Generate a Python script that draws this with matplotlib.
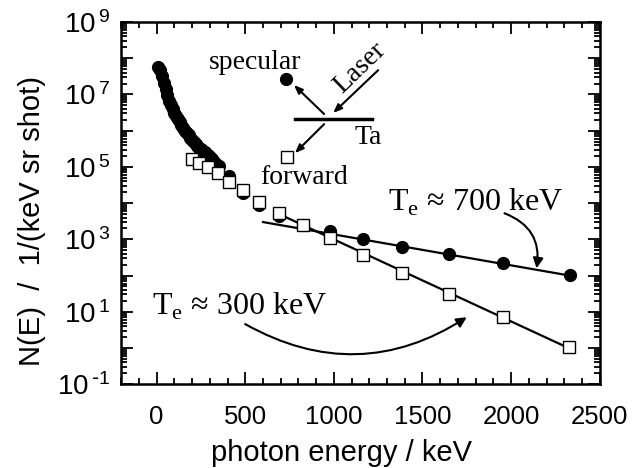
import numpy as np
import matplotlib
matplotlib.use('Agg')
from matplotlib import pyplot as plt
from matplotlib import ticker
from matplotlib.patches import FancyArrowPatch

# specular spectrum (filled circles)
spec_x = [10, 20, 30, 40, 50, 60, 70, 80, 90, 100, 110, 120, 130, 140, 150,
          160, 170, 180, 190, 200, 210, 220, 230, 240, 250, 260, 270, 280,
          290, 300, 310, 320, 330, 340, 350,
          409, 489, 580, 693, 824, 977, 1165, 1386, 1648, 1955, 2330]
spec_y = [5.8e7, 4.8e7, 3.3e7, 2.1e7, 1.4e7, 9.5e6, 6.6e6, 5.0e6, 3.9e6, 3.1e6,
          2.6e6, 2.1e6, 1.75e6, 1.4e6, 1.2e6, 1.0e6, 8.6e5, 7.4e5, 6.3e5, 5.5e5,
          4.9e5, 4.3e5, 3.8e5, 3.4e5, 3.1e5, 2.8e5, 2.5e5, 2.3e5, 2.1e5, 1.9e5,
          1.7e5, 1.5e5, 1.3e5, 1.15e5, 1.05e5,
          5.6e4, 1.9e4, 8.7e3, 4.4e3, 2.5e3, 1.7e3, 1.0e3, 6.0e2, 3.9e2, 2.2e2, 1.02e2]

# forward spectrum (open squares)
fwd_x = [199, 239, 290, 347, 409, 489, 580, 693, 824, 977, 1165, 1386, 1648, 1955, 2324]
fwd_y = [1.7e5, 1.27e5, 9.8e4, 6.8e4, 3.8e4, 2.3e4, 1.07e4, 5.3e3, 2.5e3, 1.08e3,
         3.6e2, 1.17e2, 31, 7.1, 1.05]

# exponential fits
fit_hot_x = [600, 2330]
fit_hot_y = [3.0e3, 1.0e2]
fit_cold_x = [690, 2324]
fit_cold_y = [5.0e3, 1.0]

serif = 'Liberation Serif'
sans = 'Liberation Sans'
plt.rcParams['font.family'] = sans

fig = plt.figure(figsize=(6.38, 4.68), dpi=100)
ax = fig.add_axes([0.190, 0.179, 0.750, 0.774])

ax.plot(fit_hot_x, fit_hot_y, '-', color='black', lw=1.6, zorder=2)
ax.plot(fit_cold_x, fit_cold_y, '-', color='black', lw=1.6, zorder=2)
ax.plot(spec_x, spec_y, 'o', color='black', ms=8.5, zorder=3)
ax.plot(fwd_x, fwd_y, 's', mfc='white', mec='black', mew=1.0, ms=8.5, zorder=4)

ax.set_yscale('log')
ax.set_xlim(-200, 2500)
ax.set_ylim(1e-1, 1e9)

ax.xaxis.set_major_locator(ticker.MultipleLocator(500))
ax.xaxis.set_minor_locator(ticker.MultipleLocator(100))
ax.yaxis.set_major_locator(ticker.LogLocator(base=10, numticks=20))
ax.yaxis.set_minor_locator(ticker.LogLocator(base=10, subs=np.arange(2, 10), numticks=20))


def ylab(v, pos):
    e = int(round(np.log10(v)))
    if e % 2 == 0:
        return ''
    s = str(e).replace('-', r'\text{-}')
    return r'$\mathregular{10^{\,%s}}$' % s


ax.yaxis.set_major_formatter(ticker.FuncFormatter(ylab))
ax.yaxis.set_minor_formatter(ticker.NullFormatter())

ax.tick_params(which='both', direction='in', top=True, right=True, width=1.3)
ax.tick_params(which='major', length=8.5)
ax.tick_params(which='minor', length=4.5)
ax.tick_params(axis='x', which='major', labelsize=18.5, pad=15)
ax.tick_params(axis='y', which='major', labelsize=20, pad=8)
for s in ax.spines.values():
    s.set_linewidth(1.8)

ax.set_xlabel('photon energy / keV', fontsize=21)
ax.xaxis.label.set_verticalalignment('baseline')
ax.xaxis.set_label_coords(0.461, -0.213)
ax.set_ylabel('N(E)  /  1/(keV sr shot)', fontsize=21)
ax.yaxis.label.set_verticalalignment('center')
ax.yaxis.set_label_coords(-0.186, 0.450)

# inset sketch
tr = ax.transAxes
ax.plot([0.344], [0.843], 'o', color='black', ms=8.5, transform=tr, clip_on=False)
ax.plot([0.347], [0.627], 's', mfc='white', mec='black', mew=1.0, ms=8.5,
        transform=tr, clip_on=False)
ax.plot([0.363, 0.524], [0.732, 0.732], '-', color='black', lw=2.5, transform=tr)
ax.text(0.280, 0.887, 'specular', transform=tr, fontsize=20, family=serif,
        ha='center', va='center')
ax.text(0.382, 0.572, 'forward', transform=tr, fontsize=20, family=serif,
        ha='center', va='center')
ax.text(0.516, 0.682, 'Ta', transform=tr, fontsize=20, family=serif,
        ha='center', va='center')
ax.text(0.499, 0.873, 'Laser', transform=tr, fontsize=20, family=serif,
        ha='center', va='center', rotation=44)

for (x0, y0), (x1, y1) in [((0.537, 0.867), (0.443, 0.749)),
                           ((0.424, 0.746), (0.361, 0.826)),
                           ((0.424, 0.718), (0.363, 0.638))]:
    ax.annotate('', xy=(x1, y1), xytext=(x0, y0), xycoords=tr, textcoords=tr,
                arrowprops=dict(arrowstyle='-|>,head_length=0.5,head_width=0.2',
                                color='black', lw=1.5, shrinkA=0, shrinkB=0))

ax.text(0.557, 0.478, 'T$_\\mathregular{e}$ \u2248 700 keV', transform=tr,
        fontsize=23, family=serif, ha='left', va='baseline')
ax.text(0.065, 0.191, 'T$_\\mathregular{e}$ \u2248 300 keV', transform=tr,
        fontsize=23, family=serif, ha='left', va='baseline')

a1 = FancyArrowPatch((0.801, 0.472), (0.868, 0.320), transform=tr,
                     connectionstyle='arc3,rad=-0.4',
                     arrowstyle='-|>,head_length=6,head_width=3',
                     color='black', lw=1.5, shrinkA=0, shrinkB=0)
ax.add_patch(a1)
a2 = FancyArrowPatch((0.259, 0.166), (0.722, 0.185), transform=tr,
                     connectionstyle='arc3,rad=0.3',
                     arrowstyle='-|>,head_length=6,head_width=3',
                     color='black', lw=1.5, shrinkA=0, shrinkB=0)
ax.add_patch(a2)

plt.savefig('out.png', dpi=100)
